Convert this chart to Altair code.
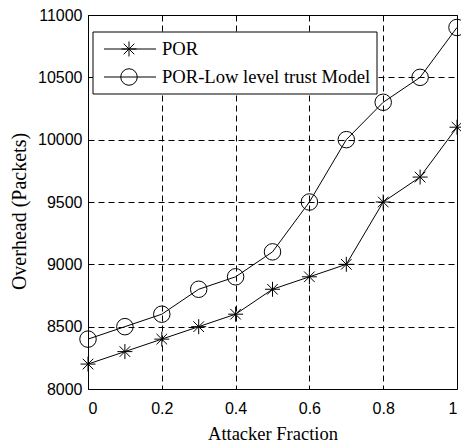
import altair as alt
import pandas as pd

# Overhead vs. attacker fraction for two routing schemes
attacker_fraction = [0.0, 0.1, 0.2, 0.3, 0.4, 0.5, 0.6, 0.7, 0.8, 0.9, 1.0]
por = [8200, 8300, 8400, 8500, 8600, 8800, 8900, 9000, 9500, 9700, 10100]
por_low_trust = [8400, 8500, 8600, 8800, 8900, 9100, 9500, 10000, 10300, 10500, 10900]

series_names = ["POR", "POR-Low level trust Model"]
x_ticks = [0, 0.2, 0.4, 0.6, 0.8, 1.0]
y_ticks = [8000, 8500, 9000, 9500, 10000, 10500, 11000]

rows = []
for name, values in zip(series_names, [por, por_low_trust]):
    for f, v in zip(attacker_fraction, values):
        rows.append({"fraction": f, "overhead": v, "series": name})
df = pd.DataFrame(rows)

# asterisk marker (+ and x strokes)
STAR = ("M-1,0L1,0M0,-1L0,1M-0.7071,-0.7071L0.7071,0.7071"
        "M-0.7071,0.7071L0.7071,-0.7071")

grid = dict(gridColor="black", gridDash=[6, 4], gridWidth=1, gridOpacity=1)

x = alt.X("fraction:Q", title="Attacker Fraction",
          scale=alt.Scale(domain=[0, 1], nice=False),
          axis=alt.Axis(values=x_ticks, labelExpr="format(datum.value, '~g')",
                        ticks=False, tickSize=0, titleFontSize=18.5,
                        labelPadding=11, titlePadding=8, domain=False, **grid))
y = alt.Y("overhead:Q", title="Overhead (Packets)",
          scale=alt.Scale(domain=[8000, 11000], nice=False),
          axis=alt.Axis(values=y_ticks, format="d", ticks=False, tickSize=0,
                        labelPadding=6, titlePadding=8, titleY=196,
                        titleFontSize=20, domain=False, **grid))

base = alt.Chart(df)

lines = base.mark_line(color="black", strokeWidth=1).encode(
    x=x, y=y, detail="series:N")

stars = base.transform_filter(alt.datum.series == "POR").mark_point(
    shape=STAR, size=225, filled=False, color="black", strokeWidth=1, opacity=1
).encode(x=x, y=y)

circles = base.transform_filter(alt.datum.series != "POR").mark_point(
    shape="circle", size=272, filled=False, color="black", strokeWidth=1, opacity=1
).encode(x=x, y=y)

# legend drawn inside the plot, upper left
one = alt.Chart(pd.DataFrame({"k": [0]}))
legend_box = one.mark_rect(fill="white", stroke="black", strokeWidth=1).encode(
    x=alt.value(5), x2=alt.value(289), y=alt.value(17), y2=alt.value(79))

legend_layers = [legend_box]
for row_y, name, shape, size in [(34, series_names[0], STAR, 225),
                                 (62, series_names[1], "circle", 272)]:
    legend_layers.append(one.mark_rule(color="black", strokeWidth=1).encode(
        x=alt.value(16), x2=alt.value(68), y=alt.value(row_y)))
    legend_layers.append(one.mark_point(
        shape=shape, size=size, filled=False, color="black", strokeWidth=1,
        opacity=1).encode(x=alt.value(41), y=alt.value(row_y)))
    legend_layers.append(one.mark_text(
        text=name, align="left", baseline="middle", font="Liberation Serif",
        fontSize=18.6, color="black").encode(x=alt.value(74), y=alt.value(row_y)))

chart = alt.layer(lines, stars, circles, *legend_layers).properties(
    width=369, height=374,
    padding={"left": 88, "top": 15, "right": 4, "bottom": 56},
    autosize="none", background="white",
).configure_view(
    stroke="black", strokeWidth=1
).configure_axis(
    labelFont="Liberation Sans", labelFontSize=16, labelColor="black",
    titleFont="Liberation Serif", titleFontWeight="normal",
    titleColor="black",
)

chart.save("out.html", embed_options={"renderer": "svg", "actions": False})
